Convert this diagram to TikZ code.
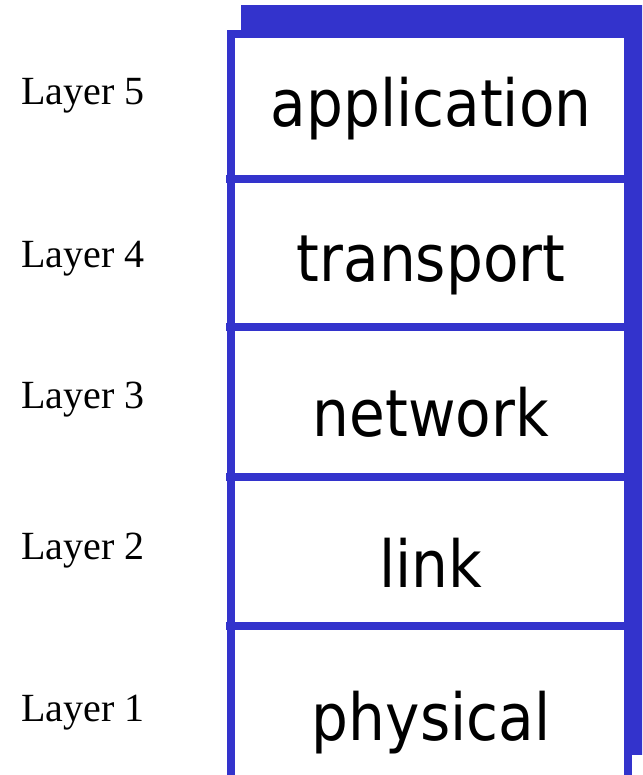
\documentclass[tikz,border=0pt]{standalone}
\usepackage{fontspec}
\setmainfont{Liberation Serif}
\newfontfamily\boxfont{DejaVu Sans}
\definecolor{layerblue}{RGB}{51,51,204}
\newcommand{\tallword}[1]{\scalebox{1.02}[1.14]{#1}}
\begin{document}
\begin{tikzpicture}[x=1pt,y=-1pt,
  lab/.style={anchor=base west, inner sep=0pt, font=\fontsize{40}{40}\selectfont},
  lname/.style={anchor=base, inner sep=0pt, font=\boxfont\fontsize{57}{57}\selectfont},
  rule/.style={draw=layerblue, line width=8pt}]
\useasboundingbox (0,0) rectangle (642,775);
\clip (0,0) rectangle (642,775);
% shadow
\fill[layerblue] (241,5) rectangle (650,755);
% front box
\filldraw[fill=white, rule] (231,34) rectangle (628,779);
\foreach \y in {179,327,477,626} {
  \draw[rule] (226,\y) -- (628,\y);
}
% layer names
\node[lname] (app) at (431,127) {\tallword{application}};
\node[lname] (tra) at (431,281) {\tallword{transport}};
\node[lname] (net) at (431,436) {\tallword{network}};
\node[lname] (lnk) at (431,587) {\tallword{link}};
\node[lname] (phy) at (431,740) {\tallword{physical}};
% layer labels
\node[lab] (l5) at (21,105) {Layer 5};
\node[lab] (l4) at (21,268) {Layer 4};
\node[lab] (l3) at (21,408) {Layer 3};
\node[lab] (l2) at (21,559) {Layer 2};
\node[lab] (l1) at (21,721) {Layer 1};
\end{tikzpicture}
\end{document}
